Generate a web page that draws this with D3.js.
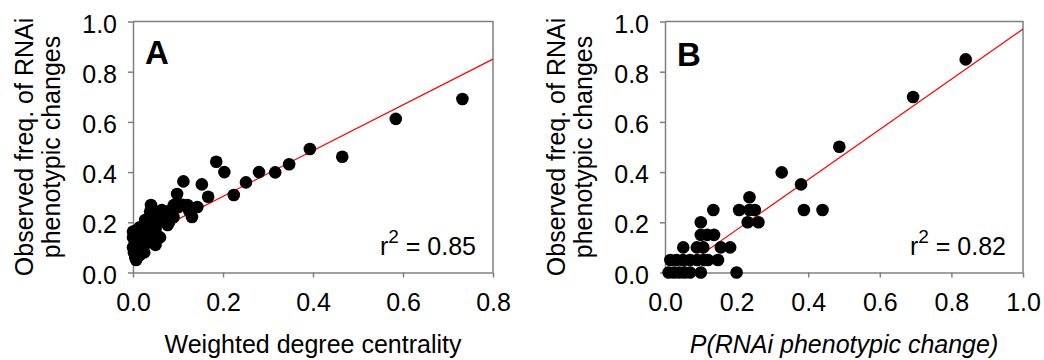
<!DOCTYPE html>
<html>
<head>
<meta charset="utf-8">
<script src="https://cdn.jsdelivr.net/npm/d3@7"></script>
<style>
  body { margin: 0; background: #fff; }
  svg text { font-family: "Liberation Sans", Arial, sans-serif; fill: #000; }
</style>
</head>
<body>
<svg id="chart" width="1044" height="360"></svg>
<script>
// panel A: weighted degree centrality vs observed freq.
var wdcX = [0.732, 0.584, 0.465, 0.393, 0.347, 0.316, 0.280, 0.251, 0.224, 0.185, 0.203, 0.153, 0.167,
  0.112, 0.131, 0.143, 0.121, 0.098, 0.091, 0.077, 0.056, 0.064, 0.040, 0.038, 0.027, 0.007, 0.000, 0.004,
  0.005, 0.002, 0.000, 0.004, 0.000, 0.010, 0.015, 0.020, 0.025, 0.020, 0.030, 0.035, 0.040, 0.030, 0.045,
  0.050, 0.055, 0.060, 0.065, 0.070, 0.045, 0.035, 0.015, 0.010, 0.060, 0.040, 0.025, 0.015, 0.050, 0.080,
  0.090, 0.100, 0.075, 0.085, 0.110, 0.125];
var wdcY = [0.691, 0.612, 0.461, 0.492, 0.431, 0.399, 0.400, 0.359, 0.309, 0.441, 0.400, 0.351, 0.302,
  0.363, 0.221, 0.261, 0.269, 0.313, 0.269, 0.189, 0.139, 0.249, 0.269, 0.242, 0.209, 0.050, 0.163, 0.163,
  0.060, 0.080, 0.100, 0.120, 0.140, 0.100, 0.130, 0.090, 0.110, 0.150, 0.120, 0.140, 0.160, 0.180, 0.190,
  0.170, 0.200, 0.220, 0.240, 0.210, 0.230, 0.210, 0.180, 0.170, 0.140, 0.120, 0.080, 0.070, 0.110, 0.200,
  0.220, 0.260, 0.240, 0.250, 0.270, 0.245];

// panel B: predicted P(RNAi phenotypic change) vs observed freq.
var probX = [0.840, 0.693, 0.487, 0.440, 0.388, 0.380, 0.326, 0.236, 0.207, 0.236, 0.251, 0.231, 0.261,
  0.135, 0.100, 0.100, 0.118, 0.137, 0.051, 0.089, 0.107, 0.156, 0.182, 0.148,
  0.015, 0.032, 0.050, 0.070, 0.090, 0.110, 0.120,
  0.010, 0.025, 0.040, 0.055, 0.070, 0.100, 0.200];
var probY = [0.849, 0.699, 0.501, 0.249, 0.249, 0.351, 0.399, 0.300, 0.249, 0.249, 0.249, 0.200, 0.200,
  0.249, 0.200, 0.150, 0.150, 0.150, 0.100, 0.100, 0.100, 0.100, 0.100, 0.050,
  0.050, 0.050, 0.050, 0.050, 0.050, 0.050, 0.050,
  0.000, 0.000, 0.000, 0.000, 0.000, 0.000, 0.000];

// fitted lines [x0, y0, x1, y1]
var fitA = [0.0, 0.121, 0.8, 0.85];
var fitB = [0.03, 0.0, 1.0, 0.97];

var xTicksA = [0, 0.2, 0.4, 0.6, 0.8];
var xTicksB = [0, 0.2, 0.4, 0.6, 0.8, 1.0];
var yTicks = [0, 0.2, 0.4, 0.6, 0.8, 1.0];

var svg = d3.select("#chart");
var plotTop = 21.5, plotBottom = 272.5;

function drawPanel(p) {
  var x = d3.scaleLinear().domain(p.xDomain).range([p.left, p.right]);
  var y = d3.scaleLinear().domain([0, 1]).range([plotBottom, plotTop]);
  var g = svg.append("g");

  // frame (top + right)
  g.append("path")
    .attr("d", "M" + p.left + "," + plotTop + "H" + p.right + "V" + plotBottom)
    .attr("fill", "none").attr("stroke", "#808080").attr("stroke-width", 1.5);

  var xAxis = g.append("g")
    .attr("transform", "translate(0," + plotBottom + ")")
    .call(d3.axisBottom(x).tickValues(p.xTicks).tickFormat(d3.format(".1f")).tickSize(5).tickSizeOuter(0).tickPadding(16));
  var yAxis = g.append("g")
    .attr("transform", "translate(" + p.left + ",0)")
    .call(d3.axisLeft(y).tickValues(yTicks).tickFormat(d3.format(".1f")).tickSize(5).tickSizeOuter(0).tickPadding(11));
  [xAxis, yAxis].forEach(function(a) {
    a.selectAll("path, line").attr("stroke", "#808080").attr("stroke-width", 1.5);
    a.selectAll("text").style("font-size", "25px").attr("fill", "#000");
  });
  yAxis.selectAll("text").attr("dy", "0.42em");

  // regression line
  g.append("line")
    .attr("x1", x(p.fit[0])).attr("y1", y(p.fit[1]))
    .attr("x2", x(p.fit[2])).attr("y2", y(p.fit[3]))
    .attr("stroke", "#ff0000").attr("stroke-width", 1.2);

  g.selectAll("circle.pt")
    .data(d3.range(p.xs.length))
    .enter().append("circle")
    .attr("class", "pt")
    .attr("cx", function(i) { return x(p.xs[i]); })
    .attr("cy", function(i) { return y(p.ys[i]); })
    .attr("r", 6.3)
    .attr("fill", "#000");

  // panel letter
  g.append("text")
    .attr("x", p.left + 12).attr("y", p.letterY)
    .style("font-size", "33px").style("font-weight", "bold")
    .text(p.letter);

  // r^2
  var r2 = g.append("text")
    .attr("x", p.right - 17).attr("y", 255)
    .attr("text-anchor", "end")
    .style("font-size", "25px");
  r2.append("tspan").text("r");
  r2.append("tspan").attr("dy", -12).style("font-size", "19px").text("2");
  r2.append("tspan").attr("dy", 12).text(" = " + p.r2);

  // y title (two lines)
  var cy = (plotTop + plotBottom) / 2;
  g.append("text")
    .attr("transform", "translate(" + (p.left - 100) + "," + cy + ") rotate(-90)")
    .attr("text-anchor", "middle").style("font-size", "25px")
    .text("Observed freq. of RNAi");
  g.append("text")
    .attr("transform", "translate(" + (p.left - 73) + "," + cy + ") rotate(-90)")
    .attr("text-anchor", "middle").style("font-size", "25px")
    .text("phenotypic changes");

  // x title
  g.append("text")
    .attr("x", (p.left + p.right) / 2).attr("y", 353)
    .attr("text-anchor", "middle").style("font-size", "25px")
    .style("font-style", p.italic ? "italic" : "normal")
    .text(p.xTitle);
}

drawPanel({ left: 133, right: 493, xDomain: [0, 0.8], xTicks: xTicksA, xs: wdcX, ys: wdcY,
  fit: fitA, letter: "A", letterY: 64, r2: "0.85", xTitle: "Weighted degree centrality", italic: false });
drawPanel({ left: 665, right: 1023, xDomain: [0, 1.0], xTicks: xTicksB, xs: probX, ys: probY,
  fit: fitB, letter: "B", letterY: 66, r2: "0.82", xTitle: "P(RNAi phenotypic change)", italic: true });
</script>
</body>
</html>
